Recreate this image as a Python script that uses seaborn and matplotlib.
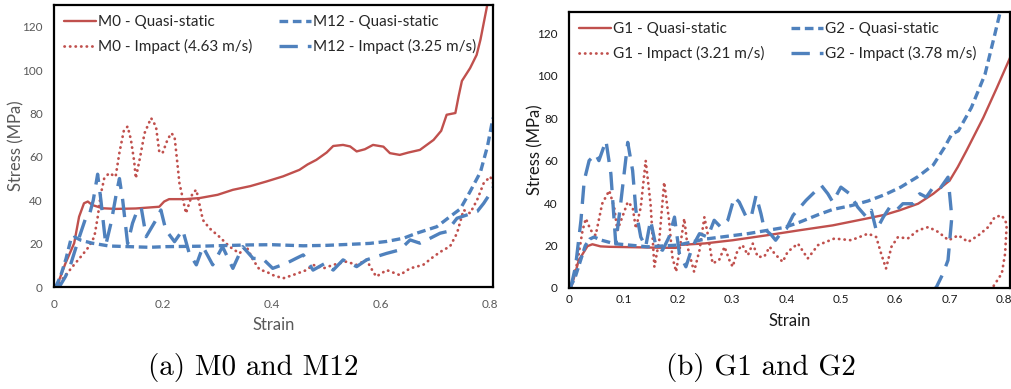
import numpy as np
import matplotlib
matplotlib.use("Agg")
import matplotlib.pyplot as plt
import seaborn as sns

RED = "#C0504D"
BLUE = "#4F81BD"

# ---- (a) M0 and M12, (strain, stress in MPa)
m0_quasi = [(0, 0), (0.006, 0.9), (0.021, 10.9), (0.037, 20.2), (0.046, 32.4), (0.055, 38.6),
            (0.062, 39.4), (0.07, 37.8), (0.089, 36.3), (0.113, 36.0), (0.15, 36.2), (0.193, 37.0),
            (0.202, 39.4), (0.211, 40.5), (0.24, 40.5), (0.267, 41), (0.30, 42.5), (0.328, 44.8),
            (0.36, 46.5), (0.389, 48.6), (0.42, 51), (0.45, 54), (0.465, 56.5), (0.481, 58.6),
            (0.50, 62), (0.512, 65), (0.53, 65.5), (0.543, 64.8), (0.555, 62.5), (0.57, 63.5),
            (0.585, 65.5), (0.604, 64.7), (0.616, 61.7), (0.634, 60.9), (0.65, 62), (0.671, 63.2),
            (0.696, 67.8), (0.71, 72), (0.72, 79.4), (0.736, 80.2), (0.742, 88), (0.748, 95),
            (0.763, 100.9), (0.775, 107), (0.782, 114), (0.794, 129.4), (0.80, 138)]
m0_impact = [(0.003, 0), (0.02, 5), (0.034, 9.4), (0.052, 14.8), (0.064, 18.6), (0.074, 23.2),
             (0.080, 32), (0.086, 43), (0.092, 50), (0.101, 52.5), (0.113, 50.9), (0.12, 62),
             (0.128, 72), (0.135, 74), (0.141, 68), (0.147, 58), (0.150, 50.1), (0.158, 60),
             (0.166, 70.9), (0.178, 77.9), (0.187, 74), (0.193, 62.4), (0.199, 61.7), (0.208, 67.8),
             (0.215, 70.9), (0.221, 69.4), (0.225, 60), (0.23, 47.9), (0.242, 34), (0.254, 43.2),
             (0.261, 44.8), (0.273, 30.9), (0.285, 27.1), (0.303, 23.2), (0.322, 18.6), (0.34, 15.5),
             (0.353, 18.6), (0.365, 12.5), (0.377, 8), (0.39, 7), (0.401, 5.5), (0.42, 4),
             (0.438, 5.5), (0.463, 7.8), (0.475, 10.2), (0.494, 8.6), (0.512, 10.2), (0.536, 11.7),
             (0.555, 10.2), (0.573, 12.5), (0.585, 7.1), (0.591, 4.8), (0.610, 7.8), (0.634, 5.5),
             (0.653, 8.6), (0.677, 10.2), (0.696, 14), (0.714, 17.1), (0.726, 18.6), (0.739, 24.8),
             (0.751, 35.5), (0.763, 34), (0.776, 40.2), (0.788, 47.9), (0.8, 50.9), (0.805, 48)]
m12_quasi = [(0.003, 0), (0.012, 5), (0.022, 13), (0.031, 22), (0.038, 23), (0.05, 21.5),
             (0.07, 20.2), (0.101, 18.9), (0.175, 18.3), (0.205, 18.6), (0.267, 18.8), (0.359, 19.4),
             (0.40, 19.5), (0.457, 19.0), (0.50, 19.2), (0.545, 19.7), (0.579, 20.1), (0.61, 21),
             (0.641, 22.5), (0.665, 24.8), (0.702, 27.8), (0.726, 32.4), (0.745, 36), (0.763, 44),
             (0.782, 53), (0.795, 65), (0.805, 78)]
m12_impact = [(0.003, 0), (0.012, 1), (0.021, 4.8), (0.03, 10), (0.045, 22), (0.058, 31.7),
              (0.064, 32.4), (0.072, 40), (0.080, 52), (0.086, 40), (0.095, 19.4), (0.105, 30),
              (0.115, 44), (0.120, 50), (0.126, 40), (0.135, 20), (0.144, 29.4), (0.153, 35.5),
              (0.160, 36.5), (0.169, 23.2), (0.187, 30.9), (0.196, 35.5), (0.205, 26.3), (0.221, 20.9),
              (0.236, 26.3), (0.248, 15.5), (0.261, 10.2), (0.273, 18.6), (0.291, 10.2), (0.309, 18.6),
              (0.328, 8.6), (0.346, 18.6), (0.365, 13.2), (0.383, 13), (0.401, 8.6), (0.426, 10.9),
              (0.444, 13.2), (0.457, 14.8), (0.475, 7.8), (0.497, 10.9), (0.512, 7.8), (0.53, 12.5),
              (0.555, 9.4), (0.573, 12.5), (0.591, 14), (0.61, 15.5), (0.634, 17.1), (0.653, 21.7),
              (0.671, 20.2), (0.69, 22.5), (0.708, 24.8), (0.72, 25.5), (0.739, 31.7), (0.757, 33.2),
              (0.776, 34.8), (0.788, 38.6), (0.8, 43.2), (0.805, 46)]

# ---- (b) G1 and G2
g1_quasi = [(0.0, 0), (0.005, 1), (0.018, 13.1), (0.034, 19.7), (0.043, 20.6), (0.058, 19.6),
            (0.074, 19.4), (0.12, 19.2), (0.16, 19), (0.197, 18.9), (0.205, 20.3), (0.25, 21),
            (0.301, 22.5), (0.363, 24.8), (0.424, 27.2), (0.485, 29.5), (0.547, 32.7), (0.581, 34.5),
            (0.608, 36.6), (0.642, 39.7), (0.67, 44.4), (0.70, 50.6), (0.715, 57), (0.731, 64.7),
            (0.762, 80.3), (0.787, 94.4), (0.811, 108.4)]
g1_impact = [(0.003, 0.6), (0.015, 11.6), (0.025, 27.2), (0.031, 32.7), (0.04, 27.2), (0.049, 24.8),
             (0.061, 39.7), (0.074, 45.9), (0.083, 38.1), (0.089, 27.2), (0.098, 33.4), (0.108, 40.5),
             (0.117, 38.1), (0.123, 28), (0.132, 38.1), (0.141, 60), (0.15, 39.7), (0.157, 10),
             (0.166, 22.5), (0.175, 49.8), (0.184, 31.9), (0.19, 14.7), (0.197, 7.7), (0.206, 22.5),
             (0.212, 32.7), (0.218, 19.4), (0.23, 7.7), (0.24, 17.8), (0.249, 33.4), (0.255, 25.6),
             (0.264, 11.6), (0.276, 13.1), (0.286, 19.4), (0.295, 13.1), (0.301, 10), (0.31, 17.8),
             (0.319, 20.2), (0.329, 15.5), (0.338, 20.9), (0.347, 14.7), (0.359, 14.7), (0.369, 19.4),
             (0.378, 16.2), (0.393, 12.3), (0.402, 17), (0.421, 20.9), (0.439, 13.9), (0.458, 20.2),
             (0.488, 23.3), (0.519, 22.5), (0.55, 25.6), (0.565, 24), (0.574, 16.2), (0.583, 9.2),
             (0.593, 19.4), (0.605, 24), (0.623, 23.3), (0.642, 27.2), (0.661, 28.7), (0.679, 26.4),
             (0.698, 22.5), (0.716, 24.8), (0.734, 21.7), (0.753, 24.8), (0.771, 28.7), (0.783, 33.4),
             (0.796, 34.2), (0.805, 30.3), (0.802, 16.2), (0.796, 6.9), (0.78, 0.6), (0.776, 0)]
g2_quasi = [(0, 0), (0.01, 4), (0.02, 12), (0.03, 20), (0.038, 23), (0.046, 24), (0.06, 22.5),
            (0.083, 20.9), (0.144, 19.4), (0.2, 20.2), (0.249, 23), (0.329, 25.6), (0.396, 28.5),
            (0.424, 31), (0.458, 34.5), (0.485, 37), (0.519, 38.8), (0.55, 41), (0.581, 44),
            (0.61, 47.5), (0.642, 52.5), (0.67, 58), (0.69, 66), (0.704, 72.5), (0.716, 74),
            (0.74, 85), (0.765, 100.6), (0.783, 119.4), (0.793, 130), (0.80, 137)]
g2_impact = [(0.003, 0), (0.012, 10), (0.022, 31.9), (0.028, 50.6), (0.037, 60), (0.049, 63.1),
             (0.055, 60), (0.068, 69.4), (0.077, 53.8), (0.086, 20.9), (0.095, 39.7), (0.108, 68.6),
             (0.117, 55.3), (0.123, 36.6), (0.132, 24), (0.141, 19.4), (0.15, 31.9), (0.16, 19.4),
             (0.172, 17.8), (0.184, 24), (0.194, 33.4), (0.203, 16.2), (0.215, 10), (0.227, 19.4),
             (0.24, 25.6), (0.255, 24), (0.267, 31.9), (0.279, 28.7), (0.292, 31.9), (0.304, 42.8),
             (0.313, 40.5), (0.326, 33.4), (0.335, 33.4), (0.344, 43.6), (0.353, 35), (0.359, 28),
             (0.372, 25), (0.38, 22.5), (0.39, 26), (0.4, 28), (0.412, 34.2), (0.436, 41.3),
             (0.464, 48.3), (0.476, 44.4), (0.485, 40.5), (0.5, 47.5), (0.516, 44.4), (0.531, 38.1),
             (0.547, 33.4), (0.556, 36.6), (0.565, 27.2), (0.578, 33.4), (0.59, 38.1), (0.602, 36.6),
             (0.614, 39.7), (0.633, 39.7), (0.645, 44.4), (0.657, 42.8), (0.67, 47.5), (0.682, 46.7),
             (0.697, 52.2), (0.704, 33.4), (0.697, 13.1), (0.688, 6.9), (0.676, 0.6), (0.674, 0)]

labels_a = ["M0 - Quasi-static", "M0 - Impact (4.63 m/s)",
            "M12 - Quasi-static", "M12 - Impact (3.25 m/s)"]
labels_b = ["G1 - Quasi-static", "G1 - Impact (3.21 m/s)",
            "G2 - Quasi-static", "G2 - Impact (3.78 m/s)"]
yticks = [0, 20, 40, 60, 80, 100, 120]
xticks_a = [0, 0.2, 0.4, 0.6, 0.8]
xtick_labels_a = ["0", "0.2", "0.4", "0.6", "0.8"]
xticks_b = [0, 0.1, 0.2, 0.3, 0.4, 0.5, 0.6, 0.7, 0.8]
xtick_labels_b = ["0", "0.1", "0.2", "0.3", "0.4", "0.5", "0.6", "0.7", "0.8"]

# line looks: solid, dotted, short dash, long dash
styles = [
    dict(color=RED, linewidth=1.7, linestyle="-"),
    dict(color=RED, linewidth=2.0, linestyle=(0, (0.1, 1.9)), dash_capstyle="round"),
    dict(color=BLUE, linewidth=2.4, linestyle=(0, (2.6, 1.4))),
    dict(color=BLUE, linewidth=2.4, linestyle=(0, (5.5, 3.0))),
]

sns.set_theme(style="white")
plt.rcParams["font.family"] = ["Lato", "DejaVu Sans"]


def draw_panel(ax, series, labels, xticks, xtick_labels, xmax, txt_color, tick_len):
    for data, lab, st in zip(series, labels, styles):
        arr = np.array(data)
        sns.lineplot(x=arr[:, 0], y=arr[:, 1], ax=ax, sort=False, estimator=None,
                     legend=False, **st)
        ax.lines[-1].set_label(lab)
    ax.set_xlim(0, xmax)
    ax.set_ylim(0, 130)
    ax.set_xticks(xticks)
    ax.set_xticklabels(xtick_labels)
    ax.set_yticks(yticks)
    ax.tick_params(axis="both", labelsize=8.5, colors=txt_color, length=tick_len,
                   width=1, direction="out")
    ax.tick_params(axis="y", pad=8 - tick_len)
    for sp in ax.spines.values():
        sp.set_visible(True)
        sp.set_color("black")
        sp.set_linewidth(1.6)
    ax.set_xlabel("Strain", fontsize=12, color=txt_color)
    ax.set_ylabel("Stress (MPa)", fontsize=12, color=txt_color)
    ax.legend(handles=ax.lines[:4], ncol=2, loc="upper left", bbox_to_anchor=(0, 1),
              frameon=False, fontsize=11, handlelength=2.1, handletextpad=0.15,
              columnspacing=1.7, labelspacing=0.68, borderaxespad=0.45, borderpad=0.2)


fig = plt.figure(figsize=(10.11, 3.89), dpi=100)
ax_a = fig.add_axes([54 / 1011, 1 - 287 / 389, 439 / 1011, 282 / 389])
ax_b = fig.add_axes([569 / 1011, 1 - 288 / 389, 441 / 1011, 276 / 389])

draw_panel(ax_a, [m0_quasi, m0_impact, m12_quasi, m12_impact], labels_a,
           xticks_a, xtick_labels_a, 0.805, "#595959", 0)
ax_a.tick_params(axis="x", pad=9)
ax_a.xaxis.set_label_coords(0.5, -0.105)
ax_a.yaxis.set_label_coords(-0.068, 0.5)

draw_panel(ax_b, [g1_quasi, g1_impact, g2_quasi, g2_impact], labels_b,
           xticks_b, xtick_labels_b, 0.811, "#1a1a1a", 3)
ax_b.tick_params(axis="x", pad=1.5)
ax_b.xaxis.set_label_coords(0.5, -0.09)
ax_b.yaxis.set_label_coords(-0.057, 0.5)

fig.text(253 / 1011, 1 - 367 / 389, "(a) M0 and M12", fontfamily="cmr10", fontsize=21,
         ha="center", va="center", color="black")
fig.text(761 / 1011, 1 - 367 / 389, "(b) G1 and G2", fontfamily="cmr10", fontsize=21,
         ha="center", va="center", color="black")

fig.savefig("out.png", dpi=100)
